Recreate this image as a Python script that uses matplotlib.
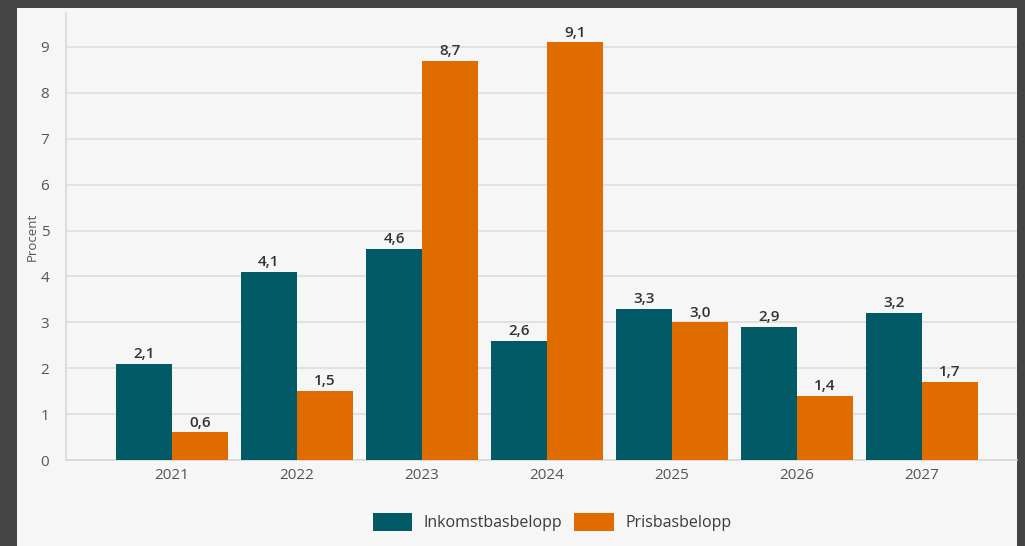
import numpy as np
import matplotlib
matplotlib.use('Agg')
import matplotlib.pyplot as plt
from matplotlib.patches import Rectangle

years = ['2021', '2022', '2023', '2024', '2025', '2026', '2027']
inkomst = [2.1, 4.1, 4.6, 2.6, 3.3, 2.9, 3.2]
pris = [0.6, 1.5, 8.7, 9.1, 3.0, 1.4, 1.7]
labels = ['Inkomstbasbelopp', 'Prisbasbelopp']

teal = '#025a67'
orange = '#e06c00'
bg = '#f6f6f6'

plt.rcParams['font.family'] = ['Open Sans', 'DejaVu Sans']

fig = plt.figure(figsize=(10.25, 5.46), dpi=100, facecolor='#444444')
# light panel inside the dark frame
fig.patches.append(Rectangle((17 / 1025, 0), 1000 / 1025, 538 / 546,
                             transform=fig.transFigure, facecolor=bg,
                             edgecolor='none', zorder=-10))

ax = fig.add_axes([66 / 1025, (546 - 460) / 546, (1017 - 66) / 1025, 447 / 546])
ax.set_facecolor(bg)

x = np.arange(len(years))
w = 0.448
b1 = ax.bar(x - w / 2, inkomst, w, color=teal, label=labels[0], zorder=3)
b2 = ax.bar(x + w / 2, pris, w, color=orange, label=labels[1], zorder=3)

for bars, vals in [(b1, inkomst), (b2, pris)]:
    for r, v in zip(bars, vals):
        ax.text(r.get_x() + r.get_width() / 2, v + 0.06, f'{v:.1f}'.replace('.', ','),
                ha='center', va='bottom', fontsize=11, color='#333333',
                fontweight='semibold')

ax.set_xlim(-0.848, 6.76)
ax.set_ylim(0, 9.74)
ax.set_yticks(range(0, 10))
ax.set_xticks(x)
ax.set_xticklabels(years)
ax.yaxis.grid(True, color='#dddddd', linewidth=1.2, zorder=0)
ax.tick_params(axis='both', length=0, labelsize=11, labelcolor='#555555')
ax.tick_params(axis='y', pad=12)
ax.tick_params(axis='x', pad=6)
for s in ['top', 'right']:
    ax.spines[s].set_visible(False)
ax.spines['left'].set_color('#d8d8d8')
ax.spines['bottom'].set_color('#d8d8d8')
ax.spines['left'].set_linewidth(1.2)
ax.spines['bottom'].set_linewidth(1.2)

ax.set_ylabel('Procent', fontsize=9.5, color='#555555', labelpad=1)

fig.legend(loc='center', bbox_to_anchor=(552 / 1025, (546 - 522) / 546),
           ncol=2, frameon=False, fontsize=11.5, labelcolor='#3a3a3a',
           handlelength=2.5, handleheight=1.4, columnspacing=0.75,
           handletextpad=0.7)

fig.savefig('out.png', dpi=100, facecolor=fig.get_facecolor())
